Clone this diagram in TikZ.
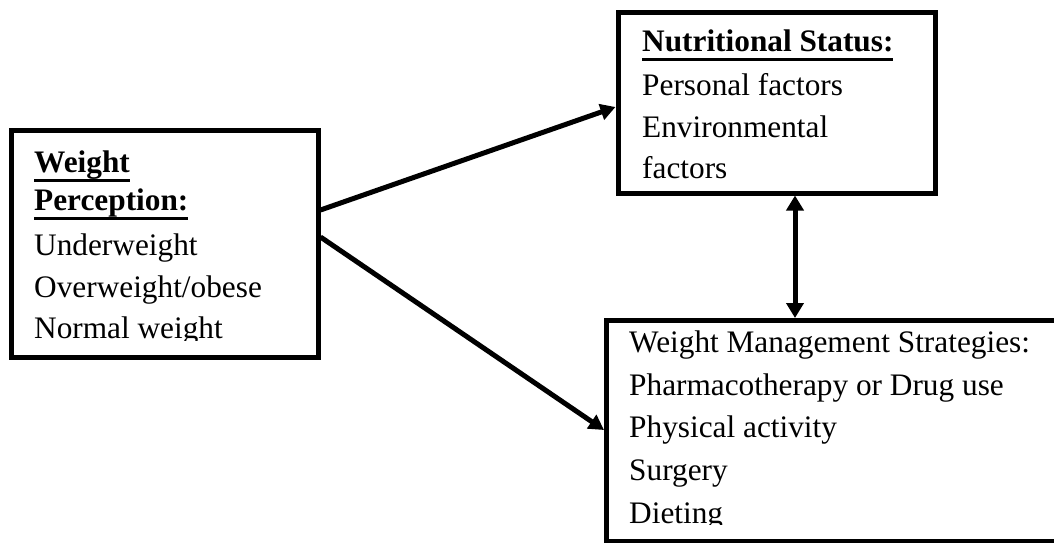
\documentclass[tikz,border=0pt]{standalone}
\usepackage{fontspec}
\setmainfont{Liberation Serif}
\usetikzlibrary{arrows.meta}
\newcommand{\myul}[1]{\setbox0=\hbox{#1}\rlap{\rule[-9.5pt]{\wd0}{3pt}}\box0}
\tikzset{
  boxnode/.style={draw=black, line width=5pt, fill=white, rectangle, inner sep=0pt},
  txt/.style={anchor=base west, inner sep=0pt, font=\fontsize{31.3}{36}\selectfont},
  conn/.style={line width=5pt, -{Triangle[length=15pt,width=16pt]}},
  dconn/.style={line width=5pt, {Triangle[length=15pt,width=17pt]}-{Triangle[length=15pt,width=17pt]}}
}
\begin{document}
\begin{tikzpicture}[x=1pt,y=-1pt]
\clip (0,0) rectangle (1054,542);
\fill[white] (0,0) rectangle (1054,542);
% boxes
\node[boxnode, minimum width=307pt, minimum height=227pt] (wp) at (164.5,243.5) {};
\node[boxnode, minimum width=317pt, minimum height=181pt] (ns) at (776.5,102.5) {};
\node[boxnode, minimum width=473.5pt, minimum height=220.5pt] (wm) at (843.25,430.75) {};
% left box text
\begin{scope}
\clip (14,133) rectangle (315,340);
\node[txt] (wp1) at (34,172) {\textbf{\myul{Weight}}};
\node[txt] (wp2) at (34,210) {\textbf{\myul{Perception:}}};
\node[txt] (wp3) at (34,255) {Underweight};
\node[txt] (wp4) at (34,297) {Overweight/obese};
\node[txt] (wp5) at (34,338) {Normal weight};
\end{scope}
% top box text
\node[txt] (ns1) at (642,51) {\textbf{\myul{Nutritional Status:}}};
\node[txt] (ns2) at (642,95) {Personal factors};
\node[txt] (ns3) at (642,137) {Environmental};
\node[txt] (ns4) at (642,178) {factors};
% bottom box text
\begin{scope}
\clip (609,323) rectangle (1054,524);
\node[txt] (wm1) at (629,352) {Weight Management Strategies:};
\node[txt] (wm2) at (629,395) {Pharmacotherapy or Drug use};
\node[txt] (wm3) at (629,437) {Physical activity};
\node[txt] (wm4) at (629,480) {Surgery};
\node[txt] (wm5) at (629,523) {Dieting};
\end{scope}
% connectors
\coordinate (s1) at (0,210);
\coordinate (s2) at (0,237);
\coordinate (e1) at (0,107);
\coordinate (e2) at (0,430);
\coordinate (vx) at (795,0);
\draw[conn] (wp.east |- s1) -- (ns.west |- e1);
\draw[conn] (wp.east |- s2) -- (wm.west |- e2);
\draw[dconn] (ns.south -| vx) -- (wm.north -| vx);
\end{tikzpicture}
\end{document}
